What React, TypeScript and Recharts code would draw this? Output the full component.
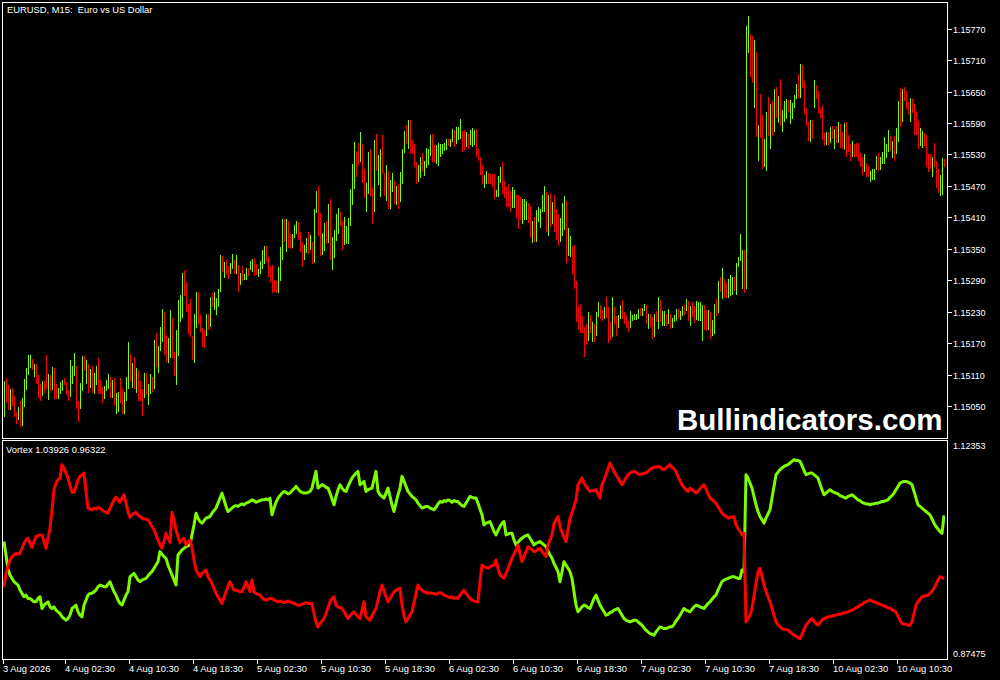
import React from 'react';
import { ComposedChart, LineChart, Bar, Line, XAxis, YAxis } from 'recharts';

// EURUSD M15 bars, 3 Aug 2026 18:30 .. 10 Aug 2026
const highs = [
  1.15097, 1.15103, 1.15090, 1.15082, 1.15084, 1.15069, 1.15038, 1.15048, 1.15059, 1.15065,
  1.15101, 1.15122, 1.15147, 1.15147, 1.15139, 1.15130, 1.15130, 1.15109, 1.15092, 1.15097,
  1.15097, 1.15147, 1.15111, 1.15109, 1.15124, 1.15122, 1.15092, 1.15084, 1.15096, 1.15099,
  1.15103, 1.15096, 1.15080, 1.15138, 1.15126, 1.15151, 1.15126, 1.15059, 1.15094, 1.15145,
  1.15145, 1.15138, 1.15130, 1.15120, 1.15126, 1.15113, 1.15126, 1.15141, 1.15099, 1.15086,
  1.15088, 1.15099, 1.15111, 1.15105, 1.15099, 1.15103, 1.15075, 1.15077, 1.15103, 1.15082,
  1.15077, 1.15105, 1.15172, 1.15149, 1.15132, 1.15143, 1.15122, 1.15118, 1.15097, 1.15082,
  1.15113, 1.15113, 1.15092, 1.15111, 1.15105, 1.15176, 1.15189, 1.15164, 1.15201, 1.15235,
  1.15229, 1.15185, 1.15180, 1.15233, 1.15218, 1.15153, 1.15195, 1.15252, 1.15262, 1.15304,
  1.15309, 1.15286, 1.15244, 1.15254, 1.15183, 1.15225, 1.15267, 1.15267, 1.15223, 1.15199,
  1.15195, 1.15225, 1.15225, 1.15258, 1.15265, 1.15267, 1.15256, 1.15273, 1.15338, 1.15336,
  1.15325, 1.15328, 1.15317, 1.15323, 1.15340, 1.15328, 1.15338, 1.15319, 1.15304, 1.15317,
  1.15302, 1.15313, 1.15313, 1.15326, 1.15330, 1.15332, 1.15321, 1.15311, 1.15326, 1.15347,
  1.15355, 1.15355, 1.15334, 1.15317, 1.15319, 1.15290, 1.15288, 1.15315, 1.15353, 1.15407,
  1.15407, 1.15407, 1.15403, 1.15378, 1.15378, 1.15395, 1.15403, 1.15401, 1.15382, 1.15363,
  1.15357, 1.15370, 1.15382, 1.15376, 1.15363, 1.15426, 1.15460, 1.15470, 1.15418, 1.15380,
  1.15399, 1.15403, 1.15436, 1.15445, 1.15373, 1.15386, 1.15417, 1.15428, 1.15420, 1.15403,
  1.15411, 1.15394, 1.15409, 1.15464, 1.15512, 1.15554, 1.15537, 1.15552, 1.15573, 1.15550,
  1.15502, 1.15476, 1.15535, 1.15541, 1.15466, 1.15558, 1.15569, 1.15529, 1.15541, 1.15567,
  1.15495, 1.15510, 1.15499, 1.15481, 1.15495, 1.15480, 1.15470, 1.15474, 1.15497, 1.15541,
  1.15575, 1.15586, 1.15596, 1.15596, 1.15558, 1.15550, 1.15516, 1.15510, 1.15525, 1.15533,
  1.15518, 1.15542, 1.15541, 1.15567, 1.15569, 1.15548, 1.15548, 1.15552, 1.15550, 1.15550,
  1.15552, 1.15560, 1.15560, 1.15560, 1.15579, 1.15577, 1.15583, 1.15583, 1.15598, 1.15575,
  1.15577, 1.15573, 1.15569, 1.15577, 1.15581, 1.15577, 1.15579, 1.15541, 1.15525, 1.15510,
  1.15491, 1.15499, 1.15495, 1.15493, 1.15493, 1.15493, 1.15462, 1.15489, 1.15506, 1.15516,
  1.15480, 1.15468, 1.15474, 1.15460, 1.15468, 1.15462, 1.15453, 1.15453, 1.15449, 1.15445,
  1.15445, 1.15441, 1.15438, 1.15432, 1.15403, 1.15411, 1.15424, 1.15430, 1.15426, 1.15453,
  1.15470, 1.15459, 1.15453, 1.15457, 1.15439, 1.15453, 1.15426, 1.15417, 1.15409, 1.15438,
  1.15451, 1.15441, 1.15390, 1.15375, 1.15356, 1.15357, 1.15289, 1.15241, 1.15245, 1.15222,
  1.15201, 1.15207, 1.15230, 1.15224, 1.15211, 1.15207, 1.15230, 1.15249, 1.15243, 1.15233,
  1.15239, 1.15258, 1.15239, 1.15211, 1.15258, 1.15239, 1.15222, 1.15224, 1.15243, 1.15252,
  1.15230, 1.15224, 1.15212, 1.15232, 1.15224, 1.15226, 1.15226, 1.15235, 1.15237, 1.15237,
  1.15245, 1.15243, 1.15226, 1.15226, 1.15220, 1.15226, 1.15232, 1.15258, 1.15253, 1.15232,
  1.15232, 1.15226, 1.15235, 1.15226, 1.15218, 1.15224, 1.15235, 1.15235, 1.15232, 1.15241,
  1.15243, 1.15255, 1.15251, 1.15241, 1.15249, 1.15241, 1.15251, 1.15249, 1.15249, 1.15243,
  1.15243, 1.15234, 1.15234, 1.15230, 1.15215, 1.15245, 1.15255, 1.15289, 1.15297, 1.15314,
  1.15293, 1.15285, 1.15293, 1.15300, 1.15297, 1.15297, 1.15323, 1.15335, 1.15379, 1.15348,
  1.15348, 1.15775, 1.15795, 1.15760, 1.15756, 1.15749, 1.15726, 1.15587, 1.15646, 1.15606,
  1.15560, 1.15611, 1.15640, 1.15627, 1.15632, 1.15655, 1.15659, 1.15642, 1.15674, 1.15615,
  1.15632, 1.15636, 1.15634, 1.15634, 1.15629, 1.15644, 1.15665, 1.15684, 1.15703, 1.15701,
  1.15671, 1.15619, 1.15592, 1.15596, 1.15596, 1.15672, 1.15663, 1.15651, 1.15617, 1.15625,
  1.15571, 1.15573, 1.15573, 1.15583, 1.15585, 1.15579, 1.15585, 1.15592, 1.15588, 1.15573,
  1.15590, 1.15592, 1.15567, 1.15550, 1.15556, 1.15550, 1.15552, 1.15552, 1.15533, 1.15526,
  1.15531, 1.15514, 1.15508, 1.15499, 1.15503, 1.15503, 1.15527, 1.15533, 1.15526, 1.15535,
  1.15564, 1.15550, 1.15577, 1.15566, 1.15556, 1.15566, 1.15581, 1.15632, 1.15657, 1.15655,
  1.15659, 1.15651, 1.15630, 1.15638, 1.15636, 1.15627, 1.15613, 1.15594, 1.15581, 1.15575,
  1.15571, 1.15567, 1.15531, 1.15531, 1.15526, 1.15552, 1.15518, 1.15503, 1.15491, 1.15524, 1.15522,
];

const lows = [
  1.15029, 1.15056, 1.15042, 1.15041, 1.15049, 1.15029, 1.15015, 1.15024, 1.15010, 1.15012,
  1.15048, 1.15080, 1.15109, 1.15122, 1.15118, 1.15105, 1.15092, 1.15065, 1.15059, 1.15069,
  1.15074, 1.15082, 1.15061, 1.15078, 1.15080, 1.15063, 1.15063, 1.15063, 1.15073, 1.15078,
  1.15090, 1.15071, 1.15059, 1.15067, 1.15092, 1.15107, 1.15044, 1.15019, 1.15044, 1.15078,
  1.15117, 1.15092, 1.15075, 1.15084, 1.15075, 1.15073, 1.15090, 1.15073, 1.15073, 1.15056,
  1.15063, 1.15078, 1.15082, 1.15065, 1.15065, 1.15050, 1.15035, 1.15038, 1.15056, 1.15035,
  1.15035, 1.15059, 1.15082, 1.15096, 1.15084, 1.15082, 1.15075, 1.15059, 1.15059, 1.15031,
  1.15065, 1.15071, 1.15052, 1.15073, 1.15077, 1.15082, 1.15124, 1.15113, 1.15155, 1.15172,
  1.15147, 1.15134, 1.15132, 1.15141, 1.15141, 1.15107, 1.15090, 1.15145, 1.15210, 1.15218,
  1.15260, 1.15229, 1.15187, 1.15181, 1.15138, 1.15132, 1.15199, 1.15206, 1.15191, 1.15162,
  1.15160, 1.15183, 1.15195, 1.15201, 1.15239, 1.15233, 1.15223, 1.15239, 1.15267, 1.15305,
  1.15294, 1.15300, 1.15292, 1.15302, 1.15311, 1.15302, 1.15302, 1.15267, 1.15281, 1.15288,
  1.15290, 1.15290, 1.15298, 1.15309, 1.15305, 1.15298, 1.15300, 1.15296, 1.15302, 1.15311,
  1.15321, 1.15325, 1.15296, 1.15286, 1.15265, 1.15267, 1.15265, 1.15265, 1.15288, 1.15328,
  1.15363, 1.15344, 1.15351, 1.15349, 1.15351, 1.15370, 1.15378, 1.15367, 1.15344, 1.15315,
  1.15328, 1.15342, 1.15340, 1.15347, 1.15321, 1.15323, 1.15418, 1.15374, 1.15336, 1.15338,
  1.15346, 1.15359, 1.15361, 1.15329, 1.15310, 1.15333, 1.15365, 1.15378, 1.15394, 1.15348,
  1.15357, 1.15359, 1.15359, 1.15394, 1.15434, 1.15464, 1.15487, 1.15510, 1.15516, 1.15476,
  1.15447, 1.15420, 1.15455, 1.15451, 1.15397, 1.15420, 1.15499, 1.15472, 1.15449, 1.15493,
  1.15451, 1.15441, 1.15426, 1.15426, 1.15459, 1.15436, 1.15434, 1.15426, 1.15439, 1.15474,
  1.15533, 1.15550, 1.15541, 1.15531, 1.15531, 1.15506, 1.15474, 1.15478, 1.15485, 1.15497,
  1.15489, 1.15504, 1.15510, 1.15527, 1.15516, 1.15514, 1.15512, 1.15508, 1.15525, 1.15531,
  1.15537, 1.15539, 1.15546, 1.15544, 1.15554, 1.15544, 1.15550, 1.15558, 1.15560, 1.15535,
  1.15539, 1.15544, 1.15541, 1.15548, 1.15544, 1.15548, 1.15525, 1.15518, 1.15491, 1.15474,
  1.15466, 1.15474, 1.15474, 1.15474, 1.15468, 1.15445, 1.15449, 1.15449, 1.15476, 1.15455,
  1.15447, 1.15430, 1.15430, 1.15420, 1.15428, 1.15428, 1.15409, 1.15388, 1.15405, 1.15397,
  1.15405, 1.15405, 1.15399, 1.15371, 1.15361, 1.15363, 1.15363, 1.15401, 1.15390, 1.15420,
  1.15420, 1.15382, 1.15375, 1.15392, 1.15397, 1.15382, 1.15367, 1.15356, 1.15363, 1.15375,
  1.15386, 1.15323, 1.15336, 1.15335, 1.15302, 1.15273, 1.15211, 1.15195, 1.15190, 1.15190,
  1.15144, 1.15167, 1.15174, 1.15190, 1.15172, 1.15172, 1.15184, 1.15220, 1.15216, 1.15212,
  1.15216, 1.15218, 1.15170, 1.15176, 1.15182, 1.15207, 1.15184, 1.15199, 1.15216, 1.15216,
  1.15207, 1.15199, 1.15191, 1.15199, 1.15213, 1.15215, 1.15215, 1.15215, 1.15222, 1.15222,
  1.15232, 1.15207, 1.15197, 1.15201, 1.15178, 1.15182, 1.15211, 1.15197, 1.15211, 1.15203,
  1.15203, 1.15203, 1.15207, 1.15197, 1.15199, 1.15211, 1.15213, 1.15215, 1.15215, 1.15222,
  1.15224, 1.15232, 1.15213, 1.15203, 1.15220, 1.15209, 1.15215, 1.15213, 1.15213, 1.15174,
  1.15195, 1.15194, 1.15195, 1.15178, 1.15184, 1.15188, 1.15222, 1.15228, 1.15268, 1.15255,
  1.15257, 1.15257, 1.15257, 1.15260, 1.15262, 1.15270, 1.15262, 1.15316, 1.15327, 1.15274,
  1.15266, 1.15274, 1.15724, 1.15678, 1.15667, 1.15619, 1.15564, 1.15518, 1.15562, 1.15503,
  1.15506, 1.15499, 1.15566, 1.15541, 1.15566, 1.15573, 1.15600, 1.15590, 1.15585, 1.15573,
  1.15592, 1.15598, 1.15611, 1.15588, 1.15598, 1.15619, 1.15636, 1.15638, 1.15638, 1.15657,
  1.15608, 1.15585, 1.15556, 1.15554, 1.15560, 1.15619, 1.15636, 1.15609, 1.15600, 1.15558,
  1.15547, 1.15548, 1.15548, 1.15552, 1.15560, 1.15541, 1.15552, 1.15552, 1.15543, 1.15541,
  1.15539, 1.15526, 1.15535, 1.15518, 1.15526, 1.15526, 1.15526, 1.15518, 1.15506, 1.15491,
  1.15497, 1.15487, 1.15487, 1.15478, 1.15482, 1.15482, 1.15501, 1.15499, 1.15501, 1.15512,
  1.15512, 1.15524, 1.15535, 1.15537, 1.15524, 1.15518, 1.15531, 1.15554, 1.15583, 1.15592,
  1.15632, 1.15615, 1.15606, 1.15592, 1.15609, 1.15567, 1.15567, 1.15541, 1.15547, 1.15543,
  1.15547, 1.15506, 1.15497, 1.15503, 1.15487, 1.15506, 1.15466, 1.15457, 1.15451, 1.15453, 1.15506,
];

// 1 = bullish bar (close above open), 0 = bearish
const upBars = [
  1,0,0,1,0,0,0,1,0,1, 1,1,1,1,0,1,0,0,0,1, 0,0,1,0,1,0,0,1,1,1, 0,0,0,1,1,1,0,0,1,1,
  0,1,0,1,0,1,1,0,0,0, 1,1,1,0,1,0,1,1,0,0, 1,1,1,0,1,0,1,0,0,0, 1,0,1,1,0,1,0,1,1,1,
  0,0,1,1,0,0,1,1,1,1, 0,0,0,0,0,1,1,0,0,0, 0,1,0,1,0,1,1,1,1,0, 1,0,0,1,1,0,1,0,1,0,
  1,1,0,1,1,0,0,1,1,1, 1,0,0,0,0,0,0,1,1,1, 0,1,0,0,1,1,1,0,0,0, 1,1,0,1,0,1,1,0,0,1,
  1,0,1,0,1,1,1,1,0,0, 1,1,1,1,1,1,0,0,1,0, 0,1,1,0,0,1,0,1,1,0, 0,1,0,1,1,0,1,0,1,1,
  1,0,1,0,0,0,0,1,1,0, 1,1,1,1,0,0,1,1,1,1, 1,1,0,1,1,0,1,1,1,0, 0,1,0,1,1,1,0,0,0,0,
  1,1,0,0,0,0,1,1,1,0, 0,0,0,0,1,1,0,0,0,1, 1,1,0,0,1,0,1,1,1,1, 1,0,1,0,1,0,0,0,1,1,
  1,0,1,1,0,0,0,0,0,0, 0,0,1,0,1,0,1,1,0,0, 1,0,0,0,1,0,0,1,1,0, 0,0,0,1,1,1,1,1,0,1,
  1,0,1,0,0,1,0,1,0,1, 1,0,1,0,1,1,1,0,1,1, 0,1,0,1,0,0,1,1,1,1, 0,0,1,0,1,1,0,1,0,1,
  0,0,1,1,1,0,1,1,1,1, 0,1,1,0,0,1,0,1,0,0, 1,1,0,1,0,1,0,1,0,1, 1,1,0,1,1,1,1,0,1,0,
  0,0,0,1,0,1,0,0,0,0, 0,1,0,1,0,1,0,1,0,0, 1,0,0,0,1,0,0,0,0,0, 1,0,0,1,1,1,1,0,1,1,
  1,1,1,0,1,0,1,1,0,1, 0,0,0,1,0,0,0,0,1,1, 0,0,0,0,1,0,0,0,1,1,0,
];

// Vortex VI+ (green) and VI- (red), one value per bar
const viPlus = [
  1.008, 0.992, 0.975, 0.968, 0.964, 0.960, 0.958, 0.956, 0.950, 0.946,
  0.942, 0.944, 0.940, 0.940, 0.938, 0.936, 0.936, 0.940, 0.942, 0.928,
  0.932, 0.934, 0.936, 0.930, 0.928, 0.930, 0.926, 0.924, 0.922, 0.918,
  0.916, 0.914, 0.916, 0.920, 0.928, 0.930, 0.932, 0.924, 0.920, 0.918,
  0.932, 0.938, 0.944, 0.946, 0.946, 0.948, 0.950, 0.954, 0.956, 0.955,
  0.954, 0.954, 0.957, 0.960, 0.954, 0.948, 0.944, 0.938, 0.934, 0.932,
  0.938, 0.944, 0.948, 0.966, 0.968, 0.970, 0.966, 0.962, 0.960, 0.962,
  0.963, 0.964, 0.967, 0.970, 0.972, 0.976, 0.980, 0.984, 0.996, 0.993,
  0.990, 0.988, 0.980, 0.974, 0.968, 0.962, 0.956, 0.992, 0.995, 0.998,
  1.000, 1.002, 1.003, 1.004, 1.016, 1.028, 1.042, 1.036, 1.032, 1.030,
  1.033, 1.036, 1.037, 1.038, 1.042, 1.045, 1.048, 1.054, 1.060, 1.066,
  1.058, 1.050, 1.044, 1.046, 1.048, 1.050, 1.051, 1.050, 1.052, 1.053,
  1.052, 1.054, 1.055, 1.056, 1.058, 1.057, 1.055, 1.056, 1.057, 1.058,
  1.058, 1.059, 1.058, 1.060, 1.040, 1.048, 1.055, 1.060, 1.063, 1.066,
  1.068, 1.067, 1.065, 1.066, 1.069, 1.071, 1.074, 1.071, 1.068, 1.067,
  1.066, 1.066, 1.067, 1.068, 1.072, 1.082, 1.092, 1.072, 1.074, 1.076,
  1.075, 1.073, 1.072, 1.066, 1.059, 1.052, 1.062, 1.070, 1.076, 1.072,
  1.069, 1.068, 1.074, 1.079, 1.084, 1.087, 1.090, 1.092, 1.076, 1.078,
  1.080, 1.068, 1.070, 1.071, 1.072, 1.082, 1.092, 1.068, 1.064, 1.062,
  1.060, 1.066, 1.072, 1.062, 1.052, 1.044, 1.054, 1.064, 1.072, 1.086,
  1.080, 1.074, 1.068, 1.065, 1.062, 1.060, 1.058, 1.054, 1.051, 1.048,
  1.049, 1.050, 1.050, 1.048, 1.047, 1.046, 1.049, 1.053, 1.056, 1.055,
  1.057, 1.056, 1.058, 1.057, 1.055, 1.057, 1.056, 1.056, 1.053, 1.051,
  1.050, 1.054, 1.058, 1.062, 1.061, 1.060, 1.060, 1.054, 1.047, 1.040,
  1.028, 1.030, 1.031, 1.032, 1.026, 1.020, 1.016, 1.021, 1.026, 1.030,
  1.032, 1.016, 1.017, 1.018, 1.018, 1.010, 1.004, 1.007, 1.010, 1.012,
  1.014, 1.015, 1.016, 1.012, 1.008, 1.004, 1.006, 1.007, 1.008, 1.006,
  1.004, 1.002, 0.997, 0.992, 0.988, 0.982, 0.977, 0.972, 0.960, 0.972,
  0.984, 0.980, 0.976, 0.972, 0.964, 0.948, 0.932, 0.924, 0.927, 0.930,
  0.932, 0.931, 0.929, 0.928, 0.934, 0.940, 0.944, 0.938, 0.932, 0.928,
  0.924, 0.920, 0.921, 0.923, 0.924, 0.926, 0.927, 0.928, 0.924, 0.920,
  0.916, 0.914, 0.913, 0.912, 0.913, 0.914, 0.914, 0.912, 0.910, 0.908,
  0.905, 0.902, 0.900, 0.898, 0.897, 0.896, 0.900, 0.903, 0.906, 0.905,
  0.904, 0.904, 0.905, 0.906, 0.906, 0.909, 0.913, 0.916, 0.920, 0.924,
  0.928, 0.926, 0.925, 0.924, 0.927, 0.930, 0.932, 0.931, 0.930, 0.929,
  0.928, 0.931, 0.934, 0.936, 0.939, 0.942, 0.944, 0.950, 0.955, 0.960,
  0.962, 0.963, 0.964, 0.965, 0.966, 0.966, 0.965, 0.964, 0.964, 0.974,
  0.972, 1.088, 1.084, 1.078, 1.072, 1.062, 1.052, 1.044, 1.038, 1.034,
  1.030, 1.036, 1.041, 1.046, 1.060, 1.074, 1.088, 1.091, 1.094, 1.096,
  1.098, 1.099, 1.100, 1.102, 1.104, 1.106, 1.105, 1.105, 1.104, 1.099,
  1.093, 1.088, 1.089, 1.090, 1.090, 1.088, 1.086, 1.084, 1.077, 1.070,
  1.064, 1.066, 1.068, 1.070, 1.068, 1.067, 1.066, 1.065, 1.063, 1.062,
  1.061, 1.060, 1.062, 1.063, 1.064, 1.062, 1.060, 1.058, 1.057, 1.055,
  1.054, 1.053, 1.053, 1.052, 1.053, 1.053, 1.054, 1.054, 1.055, 1.056,
  1.056, 1.057, 1.058, 1.061, 1.063, 1.066, 1.070, 1.074, 1.078, 1.079,
  1.080, 1.080, 1.079, 1.078, 1.076, 1.068, 1.060, 1.052, 1.050, 1.048,
  1.046, 1.044, 1.042, 1.040, 1.035, 1.030, 1.026, 1.023, 1.020, 1.018, 1.03926,
];

const viMinus = [
  0.954, 0.970, 0.978, 0.986, 0.990, 0.992, 0.994, 0.993, 0.994, 1.000,
  1.006, 1.010, 1.012, 1.006, 1.001, 1.008, 1.014, 1.015, 1.016, 1.016,
  1.008, 1.000, 1.012, 1.024, 1.046, 1.070, 1.078, 1.082, 1.084, 1.100,
  1.096, 1.090, 1.084, 1.075, 1.067, 1.067, 1.074, 1.082, 1.086, 1.088,
  1.090, 1.068, 1.048, 1.047, 1.046, 1.048, 1.047, 1.049, 1.048, 1.046,
  1.044, 1.043, 1.042, 1.048, 1.053, 1.058, 1.061, 1.058, 1.055, 1.060,
  1.064, 1.054, 1.044, 1.037, 1.040, 1.042, 1.043, 1.040, 1.038, 1.036,
  1.035, 1.035, 1.034, 1.030, 1.026, 1.022, 1.016, 1.010, 1.004, 1.000,
  1.008, 1.018, 1.012, 1.007, 1.043, 1.034, 1.022, 1.014, 1.007, 1.010,
  1.012, 1.004, 1.008, 1.010, 1.001, 0.986, 0.974, 0.970, 0.966, 0.970,
  0.972, 0.974, 0.966, 0.962, 0.958, 0.952, 0.946, 0.942, 0.938, 0.934,
  0.941, 0.948, 0.955, 0.960, 0.955, 0.950, 0.950, 0.949, 0.948, 0.948,
  0.954, 0.960, 0.954, 0.948, 0.962, 0.948, 0.946, 0.945, 0.944, 0.941,
  0.939, 0.938, 0.939, 0.940, 0.940, 0.938, 0.937, 0.936, 0.937, 0.936,
  0.935, 0.936, 0.937, 0.936, 0.935, 0.934, 0.933, 0.932, 0.932, 0.933,
  0.934, 0.935, 0.934, 0.934, 0.934, 0.922, 0.912, 0.906, 0.910, 0.913,
  0.916, 0.922, 0.929, 0.936, 0.940, 0.942, 0.932, 0.930, 0.929, 0.928,
  0.924, 0.920, 0.916, 0.919, 0.922, 0.924, 0.921, 0.918, 0.916, 0.926,
  0.936, 0.918, 0.916, 0.914, 0.919, 0.924, 0.928, 0.938, 0.948, 0.956,
  0.949, 0.942, 0.936, 0.940, 0.944, 0.948, 0.950, 0.951, 0.952, 0.932,
  0.920, 0.912, 0.916, 0.920, 0.924, 0.935, 0.946, 0.956, 0.952, 0.950,
  0.948, 0.947, 0.946, 0.947, 0.946, 0.946, 0.945, 0.946, 0.947, 0.946,
  0.944, 0.943, 0.942, 0.941, 0.942, 0.940, 0.941, 0.940, 0.944, 0.947,
  0.950, 0.946, 0.943, 0.940, 0.938, 0.937, 0.936, 0.936, 0.960, 0.980,
  0.978, 0.977, 0.976, 0.978, 0.979, 0.980, 0.986, 0.976, 0.968, 0.966,
  0.964, 0.970, 0.976, 0.982, 0.988, 0.993, 0.998, 1.004, 0.994, 0.984,
  0.990, 0.996, 1.002, 1.000, 0.998, 0.996, 0.997, 0.999, 1.000, 0.996,
  0.993, 0.990, 1.004, 1.010, 1.016, 1.030, 1.034, 1.038, 1.026, 1.019,
  1.013, 1.008, 1.022, 1.036, 1.042, 1.050, 1.058, 1.076, 1.080, 1.084,
  1.078, 1.074, 1.071, 1.068, 1.069, 1.069, 1.070, 1.065, 1.060, 1.076,
  1.082, 1.088, 1.095, 1.102, 1.097, 1.092, 1.088, 1.084, 1.080, 1.076,
  1.080, 1.084, 1.088, 1.090, 1.091, 1.092, 1.091, 1.089, 1.088, 1.089,
  1.090, 1.090, 1.092, 1.094, 1.096, 1.097, 1.097, 1.098, 1.097, 1.095,
  1.094, 1.096, 1.098, 1.100, 1.097, 1.095, 1.092, 1.086, 1.081, 1.076,
  1.073, 1.070, 1.068, 1.072, 1.070, 1.068, 1.066, 1.068, 1.071, 1.074,
  1.076, 1.071, 1.065, 1.060, 1.058, 1.056, 1.054, 1.050, 1.046, 1.042,
  1.040, 1.038, 1.036, 1.037, 1.037, 1.038, 1.028, 1.024, 1.020, 1.016,
  1.018, 0.912, 0.916, 0.920, 0.928, 0.943, 0.958, 0.972, 0.976, 0.966,
  0.956, 0.949, 0.942, 0.936, 0.928, 0.920, 0.912, 0.909, 0.906, 0.904,
  0.903, 0.903, 0.902, 0.900, 0.898, 0.896, 0.895, 0.893, 0.892, 0.897,
  0.903, 0.908, 0.911, 0.914, 0.916, 0.913, 0.910, 0.908, 0.911, 0.914,
  0.916, 0.917, 0.918, 0.918, 0.919, 0.920, 0.920, 0.921, 0.921, 0.922,
  0.923, 0.923, 0.924, 0.925, 0.926, 0.927, 0.929, 0.930, 0.932, 0.933,
  0.935, 0.936, 0.937, 0.938, 0.937, 0.936, 0.935, 0.934, 0.933, 0.932,
  0.931, 0.930, 0.929, 0.928, 0.927, 0.925, 0.924, 0.919, 0.914, 0.910,
  0.909, 0.909, 0.908, 0.908, 0.912, 0.922, 0.932, 0.936, 0.939, 0.942,
  0.943, 0.943, 0.944, 0.946, 0.949, 0.952, 0.957, 0.962, 0.966, 0.965, 0.96322,
];

const priceTicks = [1.1505, 1.1511, 1.1517, 1.1523, 1.1529, 1.1535, 1.1541, 1.1547, 1.1553, 1.1559, 1.1565, 1.1571, 1.1577];
const vortexTicks = [0.87475, 1.12353];
// bar index of each time label and its text
const timeTickIdx = [0, 31, 63, 95, 127, 159, 191, 223, 255, 287, 319, 351, 383, 415, 447];
const timeTickLabels = [
  '3 Aug 2026', '4 Aug 02:30', '4 Aug 10:30', '4 Aug 18:30', '5 Aug 02:30', '5 Aug 10:30', '5 Aug 18:30',
  '6 Aug 02:30', '6 Aug 10:30', '6 Aug 18:30', '7 Aug 02:30', '7 Aug 10:30', '7 Aug 18:30', '10 Aug 02:30', '10 Aug 10:30',
];

const GREEN = '#7CFC00';
const RED = '#FF0000';
const FONT = '"Liberation Sans", Arial, sans-serif';

const bars = highs.map((h, i) => ({ i, range: [lows[i], h], up: upBars[i] === 1 }));
const vortex = viPlus.map((p, i) => ({ i, plus: p, minus: viMinus[i] }));

const PriceBar = (props: any) => {
  const { x, y, width, height, payload } = props;
  if (x == null || y == null || !payload) return null;
  const top = Math.round(Math.min(y, y + height));
  const h = Math.max(1, Math.round(Math.abs(height)));
  return (
    <rect
      x={Math.floor(x + width / 2)}
      y={top}
      width={1}
      height={h}
      fill={payload.up ? GREEN : RED}
      shapeRendering="crispEdges"
    />
  );
};

const PriceTick = (props: any) => {
  const yy = Math.round(props.y) + 0.5;
  return (
    <g>
      <line x1={947} x2={952} y1={yy} y2={yy} stroke="#fff" shapeRendering="crispEdges" />
      <text x={953} y={yy + 3} fill="#fff" fontSize={9} fontFamily={FONT}>
        {props.payload.value.toFixed(5)}
      </text>
    </g>
  );
};

const VortexTick = (props: any) => {
  const yy = Math.round(props.y) + 0.5;
  return (
    <text x={953} y={yy + 3} fill="#fff" fontSize={9} fontFamily={FONT}>
      {props.payload.value.toFixed(5)}
    </text>
  );
};

const TimeTick = (props: any) => {
  const k = timeTickIdx.indexOf(props.payload.value);
  const xx = Math.round(props.x) - 0.5;
  return (
    <g>
      <line x1={xx} x2={xx} y1={659} y2={664} stroke="#fff" shapeRendering="crispEdges" />
      <text x={xx - 0.5} y={672} fill="#fff" fontSize={9.4} fontFamily={FONT}>
        {timeTickLabels[k]}
      </text>
    </g>
  );
};

export default function App() {
  const last = viPlus.length - 1;
  return (
    <div style={{ position: 'absolute', left: 0, top: 0, width: 1000, height: 680, background: '#000', overflow: 'hidden' }}>
      <div style={{ position: 'absolute', left: 0, top: 0 }}>
        <ComposedChart width={1000} height={440} data={bars} margin={{ top: 3, right: 0, left: 3, bottom: 3 }}>
          <XAxis dataKey="i" hide />
          <YAxis
            orientation="right"
            width={55}
            domain={[1.14991, 1.15819]}
            allowDataOverflow
            ticks={priceTicks}
            interval={0}
            axisLine={false}
            tickLine={false}
            tick={PriceTick}
          />
          <Bar dataKey="range" barSize={1} shape={PriceBar} isAnimationActive={false} />
        </ComposedChart>
      </div>
      <div style={{ position: 'absolute', left: 0, top: 0 }}>
        <LineChart width={1000} height={680} data={vortex} margin={{ top: 441, right: 0, left: 3, bottom: 0 }}>
          <XAxis
            dataKey="i"
            type="number"
            domain={[-0.5, 470.5]}
            allowDataOverflow
            ticks={timeTickIdx}
            interval={0}
            height={21}
            axisLine={false}
            tickLine={false}
            tick={TimeTick}
          />
          <YAxis
            orientation="right"
            width={55}
            domain={[0.86757, 1.12831]}
            allowDataOverflow
            ticks={vortexTicks}
            interval={0}
            axisLine={false}
            tickLine={false}
            tick={VortexTick}
          />
          <Line type="linear" dataKey="plus" stroke={GREEN} strokeWidth={3} strokeLinejoin="round" dot={false} activeDot={false} isAnimationActive={false} />
          <Line type="linear" dataKey="minus" stroke={RED} strokeWidth={3} strokeLinejoin="round" dot={false} activeDot={false} isAnimationActive={false} />
        </LineChart>
      </div>
      <svg width={1000} height={680} style={{ position: 'absolute', left: 0, top: 0, pointerEvents: 'none' }}>
        <rect x={2.5} y={2.5} width={945} height={436} fill="none" stroke="#fff" shapeRendering="crispEdges" />
        <rect x={2.5} y={440.5} width={945} height={219} fill="none" stroke="#fff" shapeRendering="crispEdges" />
        <text x={7} y={13} fill="#fff" fontSize={9.4} fontFamily={FONT} style={{ whiteSpace: 'pre' }}>
          {'EURUSD, M15:  Euro vs US Dollar'}
        </text>
        <text x={6} y={453} fill="#fff" fontSize={9.4} fontFamily={FONT}>
          {`Vortex ${viPlus[last].toFixed(5)} ${viMinus[last].toFixed(5)}`}
        </text>
        <text x={677} y={430} fill="#fff" fontSize={29.5} fontWeight="bold" fontFamily={FONT}>
          Bullindicators.com
        </text>
      </svg>
    </div>
  );
}
